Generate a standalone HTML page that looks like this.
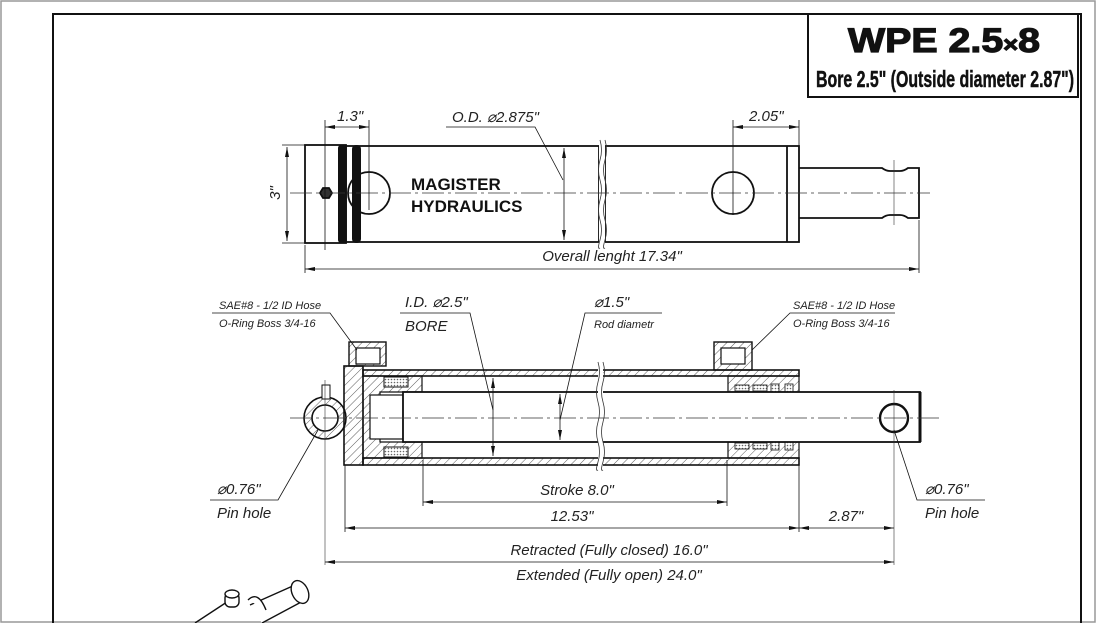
<!DOCTYPE html>
<html><head><meta charset="utf-8"><style>
html,body{margin:0;padding:0;background:#fff}
svg{display:block}
.t{font-family:"Liberation Sans",sans-serif;font-style:italic;font-size:15px;fill:#222}
.s{font-size:11px}
.th{stroke:#111;stroke-width:0.8;fill:none}
.k{stroke:#111;stroke-width:2;fill:none}
</style></head><body>
<svg width="1096" height="623" viewBox="0 0 1096 623" xmlns="http://www.w3.org/2000/svg">
<defs>
<pattern id="h" width="6" height="6" patternUnits="userSpaceOnUse" patternTransform="rotate(45)"><line x1="0" y1="0" x2="0" y2="6" stroke="#333" stroke-width="0.8"/></pattern>
<pattern id="x" width="3" height="3" patternUnits="userSpaceOnUse"><rect width="3" height="3" fill="#fff"/><circle cx="1.5" cy="1.5" r="0.8" fill="#666"/></pattern>
<marker id="a" viewBox="0 0 10 4" refX="10" refY="2" markerWidth="10" markerHeight="4" orient="auto-start-reverse" markerUnits="userSpaceOnUse"><path d="M0,0L10,2L0,4z" fill="#111"/></marker>
</defs>
<rect x="1" y="1" width="1094" height="621" fill="none" stroke="#999" stroke-width="1.5"/>
<path d="M53,623V14H1081V623" fill="none" stroke="#111" stroke-width="2"/>
<rect x="808" y="14" width="270" height="83" fill="#fff" stroke="#111" stroke-width="2"/>
<text x="848" y="52" textLength="192" lengthAdjust="spacingAndGlyphs" font-family="Liberation Sans,sans-serif" font-weight="bold" font-size="34" fill="#111" stroke="#111" stroke-width="1.2">WPE 2.5<tspan font-size="22">×</tspan>8</text>
<text x="816" y="87" textLength="258" lengthAdjust="spacingAndGlyphs" font-family="Liberation Sans,sans-serif" font-weight="bold" font-size="23" fill="#111" stroke="#111" stroke-width="0.5">Bore 2.5" (Outside diameter 2.87")</text>

<!-- TOP VIEW -->
<g stroke="#111" fill="none" stroke-width="1.8">
<rect x="305" y="145" width="41" height="98"/>
<rect x="346" y="146" width="253" height="96"/>
<rect x="605" y="146" width="194" height="96"/>
<line x1="787" y1="146" x2="787" y2="242"/>
<path d="M799,168H882q4,3 8,3h10q4,0 8,-3h11V218H908q-4,-3 -8,-3H890q-4,0 -8,3H799"/>
<circle cx="369" cy="193" r="21"/>
<circle cx="733" cy="193" r="21"/>
<polygon points="320,193 323,188 329,188 332,193 329,198 323,198" fill="#333"/>
</g>
<rect x="338" y="145" width="8" height="98" rx="3" fill="#111"/>
<rect x="352" y="145" width="9" height="98" rx="4" fill="#111"/>
<rect x="599" y="140" width="6" height="108" fill="#fff"/>
<path d="M600,140q3,10 0,20t0,20 0,20 0,20 0,20 0,8M605,140q3,10 0,20t0,20 0,20 0,20 0,20 0,8" stroke="#333" stroke-width="0.8" fill="none"/>
<line x1="290" y1="193" x2="930" y2="193" stroke="#333" stroke-width="0.7" stroke-dasharray="22,4,3,4"/>
<line x1="894" y1="160" x2="894" y2="225" stroke="#333" stroke-width="0.6"/>
<text x="411" y="190" font-family="Liberation Sans,sans-serif" font-weight="bold" font-size="17" fill="#111">MAGISTER</text>
<text x="411" y="212" font-family="Liberation Sans,sans-serif" font-weight="bold" font-size="17" fill="#111">HYDRAULICS</text>
<g class="th">
<line x1="287" y1="147" x2="287" y2="241" marker-start="url(#a)" marker-end="url(#a)"/>
<line x1="282" y1="145" x2="305" y2="145"/><line x1="282" y1="243" x2="305" y2="243"/>
<line x1="325" y1="120" x2="325" y2="250"/><line x1="369" y1="120" x2="369" y2="210"/>
<line x1="325" y1="127" x2="369" y2="127" marker-start="url(#a)" marker-end="url(#a)"/>
<line x1="733" y1="120" x2="733" y2="215"/><line x1="799" y1="120" x2="799" y2="146"/>
<line x1="733" y1="127" x2="799" y2="127" marker-start="url(#a)" marker-end="url(#a)"/>
<line x1="564" y1="148" x2="564" y2="240" marker-start="url(#a)" marker-end="url(#a)"/>
<polyline points="446,127 535,127 563,180"/>
<line x1="305" y1="245" x2="305" y2="273"/><line x1="919" y1="220" x2="919" y2="273"/>
<line x1="305" y1="269" x2="919" y2="269" marker-start="url(#a)" marker-end="url(#a)"/>
</g>
<text class="t" x="337" y="121">1.3"</text>
<text class="t" x="452" y="122">O.D. ⌀2.875"</text>
<text class="t" x="749" y="121">2.05"</text>
<text class="t" transform="translate(280,193) rotate(-90)" text-anchor="middle">3"</text>
<text class="t" x="612" y="261" text-anchor="middle">Overall lenght 17.34"</text>

<!-- SECTION VIEW -->
<g stroke="#111" stroke-width="1.6">
<rect x="344" y="366" width="19" height="99" fill="url(#h)"/>
<rect x="363" y="370" width="436" height="6" fill="url(#h)"/>
<rect x="363" y="458" width="436" height="7" fill="url(#h)"/>
<path d="M363,376H422V392H380V442H422V458H363Z" fill="url(#h)" stroke-width="1.2"/>
<rect x="370" y="395" width="33" height="44" fill="#fff" stroke-width="1.2"/>
<rect x="384" y="377" width="24" height="10" fill="url(#x)" stroke-width="1"/>
<rect x="384" y="447" width="24" height="10" fill="url(#x)" stroke-width="1"/>
<path d="M728,376H799V392H728Z M728,442H799V458H728Z" fill="url(#h)" stroke-width="1.2"/>
<rect x="735" y="385" width="14" height="6" fill="url(#x)" stroke-width="0.8"/>
<rect x="753" y="385" width="14" height="6" fill="url(#x)" stroke-width="0.8"/>
<rect x="771" y="384" width="8" height="8" fill="url(#x)" stroke-width="0.8"/>
<rect x="785" y="384" width="8" height="8" fill="url(#x)" stroke-width="0.8"/>
<rect x="735" y="443" width="14" height="6" fill="url(#x)" stroke-width="0.8"/>
<rect x="753" y="443" width="14" height="6" fill="url(#x)" stroke-width="0.8"/>
<rect x="771" y="442" width="8" height="8" fill="url(#x)" stroke-width="0.8"/>
<rect x="785" y="442" width="8" height="8" fill="url(#x)" stroke-width="0.8"/>
<rect x="403" y="392" width="517" height="50" fill="#fff" stroke-width="1.8"/>
<line x1="920" y1="392" x2="920" y2="442" stroke-width="3"/>
<circle cx="894" cy="418" r="14" fill="#fff" stroke-width="2.4"/>
<rect x="349" y="342" width="37" height="24" fill="url(#h)" stroke-width="1.4"/>
<rect x="356" y="348" width="24" height="16" fill="#fff" stroke-width="1.2"/>
<rect x="714" y="342" width="38" height="28" fill="url(#h)" stroke-width="1.4"/>
<rect x="721" y="348" width="24" height="16" fill="#fff" stroke-width="1.2"/>
<circle cx="325" cy="418" r="21" fill="url(#h)" stroke-width="1.6"/>
<circle cx="325" cy="418" r="13" fill="#fff" stroke-width="1.6"/>
<rect x="322" y="385" width="8" height="14" fill="#fff" stroke-width="1"/>
</g>
<rect x="598" y="362" width="5" height="108" fill="#fff"/>
<path d="M598,362q3,10 0,20t0,20 0,20 0,20 0,20 0,8M603,362q3,10 0,20t0,20 0,20 0,20 0,20 0,8" stroke="#333" stroke-width="0.8" fill="none"/>
<line x1="290" y1="418" x2="940" y2="418" stroke="#333" stroke-width="0.7" stroke-dasharray="22,4,3,4"/>
<line x1="325" y1="380" x2="325" y2="565" stroke="#333" stroke-width="0.6"/>
<line x1="894" y1="390" x2="894" y2="565" stroke="#333" stroke-width="0.6"/>
<g class="th">
<line x1="493" y1="378" x2="493" y2="456" marker-start="url(#a)" marker-end="url(#a)"/>
<line x1="560" y1="394" x2="560" y2="440" marker-start="url(#a)" marker-end="url(#a)"/>
<polyline points="212,313 330,313 357,350"/>
<polyline points="400,313 470,313 493,410"/>
<polyline points="662,313 585,313 560,420"/>
<polyline points="895,313 790,313 752,350"/>
<polyline points="210,500 278,500 318,430"/>
<polyline points="985,500 917,500 894,430"/>
<line x1="345" y1="465" x2="345" y2="532"/><line x1="423" y1="460" x2="423" y2="506"/>
<line x1="727" y1="460" x2="727" y2="506"/><line x1="799" y1="465" x2="799" y2="532"/>
<line x1="423" y1="502" x2="727" y2="502" marker-start="url(#a)" marker-end="url(#a)"/>
<line x1="345" y1="528" x2="799" y2="528" marker-start="url(#a)" marker-end="url(#a)"/>
<line x1="799" y1="528" x2="894" y2="528" marker-start="url(#a)" marker-end="url(#a)"/>
<line x1="325" y1="562" x2="894" y2="562" marker-start="url(#a)" marker-end="url(#a)"/>
</g>
<text class="t s" x="219" y="309">SAE#8 - 1/2 ID Hose</text>
<text class="t s" x="219" y="327">O-Ring Boss 3/4-16</text>
<text class="t s" x="793" y="309">SAE#8 - 1/2 ID Hose</text>
<text class="t s" x="793" y="327">O-Ring Boss 3/4-16</text>
<text class="t" x="405" y="307">I.D. ⌀2.5"</text>
<text class="t" x="405" y="331">BORE</text>
<text class="t" x="594" y="307">⌀1.5"</text>
<text class="t s" x="594" y="328">Rod diametr</text>
<text class="t" x="217" y="494">⌀0.76"</text>
<text class="t" x="217" y="518">Pin hole</text>
<text class="t" x="925" y="494">⌀0.76"</text>
<text class="t" x="925" y="518">Pin hole</text>
<text class="t" x="577" y="495" text-anchor="middle">Stroke 8.0"</text>
<text class="t" x="572" y="521" text-anchor="middle">12.53"</text>
<text class="t" x="846" y="521" text-anchor="middle">2.87"</text>
<text class="t" x="609" y="555" text-anchor="middle">Retracted (Fully closed) 16.0"</text>
<text class="t" x="609" y="580" text-anchor="middle">Extended (Fully open) 24.0"</text>

<!-- iso sketch -->
<g stroke="#111" stroke-width="1.4" fill="#fff">
<path d="M195,623L230,600"/>
<path d="M250,605L295,585L305,600L262,623" />
<ellipse cx="300" cy="592" rx="8" ry="12" transform="rotate(-25 300 592)"/>
<path d="M248,600q10,-10 18,10"/>
<rect x="225" y="593" width="14" height="14" rx="5"/>
<ellipse cx="232" cy="594" rx="7" ry="4"/>
</g>
</svg>
</body></html>
